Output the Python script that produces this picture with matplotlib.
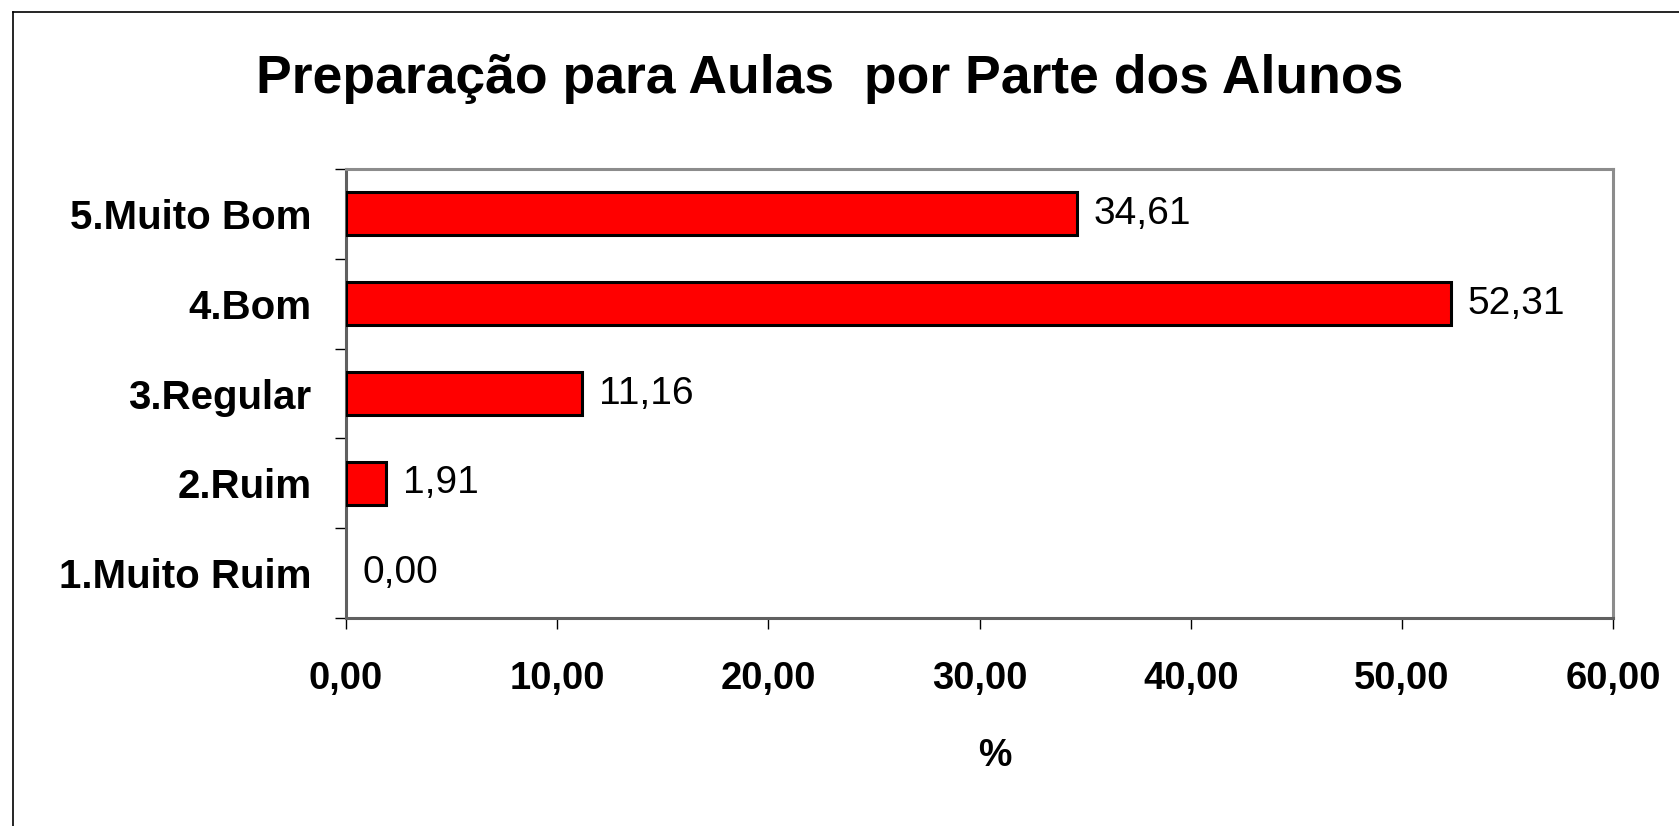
import matplotlib.pyplot as plt
from matplotlib.lines import Line2D

plt.rcParams['font.family'] = ['Liberation Sans', 'DejaVu Sans']

# data
categories = ['1.Muito Ruim', '2.Ruim', '3.Regular', '4.Bom', '5.Muito Bom']
values = [0.00, 1.91, 11.16, 52.31, 34.61]
x_ticks = [0, 10, 20, 30, 40, 50, 60]

fig = plt.figure(figsize=(16.79, 8.26), dpi=100)
ax = fig.add_axes([0.2061, 0.2518, 0.7546, 0.5436])

# outer frame (left and top visible only)
fig.add_artist(Line2D([12.5 / 1679, 12.5 / 1679], [0, 1 - 12 / 826], color='black', lw=1.2))
fig.add_artist(Line2D([12.5 / 1679, 1], [1 - 12 / 826, 1 - 12 / 826], color='black', lw=1.2))

ypos = list(range(len(categories)))
bars = ax.barh(ypos, values, height=0.48, color='#ff0000', edgecolor='black', lw=2.2, zorder=3)
for b, v in zip(bars, values):
    if v == 0:
        b.set_visible(False)

for y, v in zip(ypos, values):
    ax.text(v + 0.8, y, f'{v:.2f}'.replace('.', ','), va='center', ha='left',
            fontsize=28, color='black')

ax.set_xlim(0, 60)
ax.set_ylim(-0.5, len(categories) - 0.5)

ax.set_xticks(x_ticks)
ax.set_xticklabels([f'{t:.2f}'.replace('.', ',') for t in x_ticks],
                   fontsize=27.5, fontweight='bold')
ax.set_yticks(ypos)
ax.set_yticklabels(categories, fontsize=29, fontweight='bold')
ax.set_yticks([y - 0.5 for y in ypos] + [len(categories) - 0.5], minor=True)

ax.tick_params(axis='x', direction='out', length=8, width=1, pad=23, color='black')
ax.tick_params(axis='y', which='major', length=0, pad=25)
ax.tick_params(axis='y', which='minor', direction='out', length=8, width=1, color='black')

for side in ['top', 'right']:
    ax.spines[side].set_color('#8c8c8c')
    ax.spines[side].set_linewidth(2.2)
for side in ['left', 'bottom']:
    ax.spines[side].set_color('#606060')
    ax.spines[side].set_linewidth(2.2)

ax.set_xlabel('%', fontsize=27, fontweight='bold')
ax.xaxis.set_label_coords(0.512, -0.268)

fig.text(0.4943, 1 - 79 / 826, 'Preparação para Aulas  por Parte dos Alunos',
         ha='center', va='center', fontsize=38.5, fontweight='bold')

fig.savefig('out.png', dpi=100)
